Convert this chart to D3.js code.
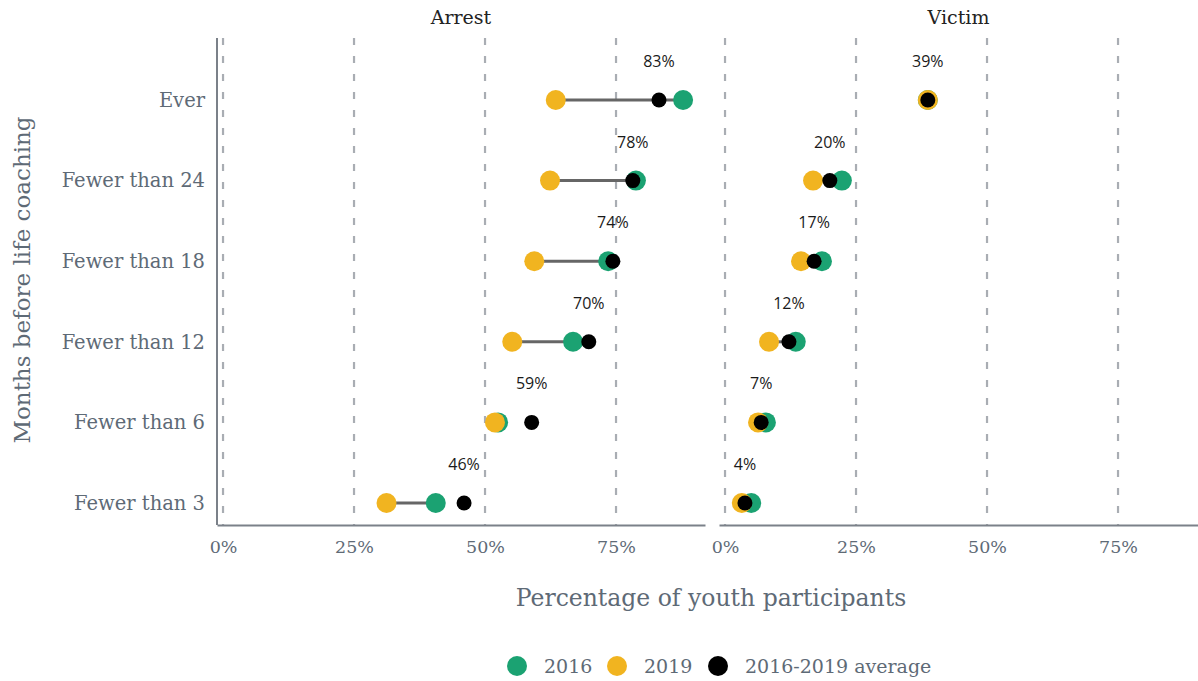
<!DOCTYPE html>
<html><head><meta charset="utf-8">
<script src="https://cdn.jsdelivr.net/npm/d3@7"></script>
<style>body{margin:0;background:#fff}</style>
</head><body>
<svg id="chart" width="1198" height="681"></svg>
<script>
const categories = ["Ever","Fewer than 24","Fewer than 18","Fewer than 12","Fewer than 6","Fewer than 3"];
const facets = ["Arrest","Victim"];
const arrest2016 = [87.8,78.8,73.5,66.8,52.5,40.6];
const arrest2019 = [63.5,62.4,59.4,55.2,51.9,31.2];
const arrestAvg  = [83.2,78.2,74.4,69.8,58.9,46.0];
const arrestLabels = ["83%","78%","74%","70%","59%","46%"];
const victim2016 = [38.7,22.3,18.5,13.5,7.8,5.0];
const victim2019 = [38.7,16.8,14.5,8.4,6.3,3.2];
const victimAvg  = [38.7,20.0,17.0,12.2,6.9,3.8];
const victimLabels = ["39%","20%","17%","12%","7%","4%"];
const xTicks = [0,25,50,75];
const legendItems = ["2016","2019","2016-2019 average"];

const colors = {g:"#1ba272", y:"#f1b420", k:"#000000"};
const axisCol = "#7b8189", textCol = "#5e6a76";
const serif = "'DejaVu Serif', serif";

const svg = d3.select("#chart");
const panels = [
  {name:facets[0], x0:217, x1:705, v16:arrest2016, v19:arrest2019, avg:arrestAvg, lab:arrestLabels},
  {name:facets[1], x0:719, x1:1198, v16:victim2016, v19:victim2019, avg:victimAvg, lab:victimLabels}
];
const yTop = 38, yBot = 525;
const y = d3.scalePoint().domain(categories).range([100,503]);

panels.forEach((p,i)=>{
  const x = d3.scaleLinear().domain([-1.15, (p.x1-p.x0)/5.24 - 1.15]).range([p.x0,p.x1]);
  const g = svg.append("g");
  g.selectAll(".grid").data(xTicks).join("line")
    .attr("x1",d=>x(d)).attr("x2",d=>x(d)).attr("y1",yTop).attr("y2",yBot)
    .attr("stroke","#a9adb3").attr("stroke-width",2.2).attr("stroke-dasharray","7,11");
  const ax = g.append("g").attr("transform",`translate(0,${yBot})`)
    .call(d3.axisBottom(x).tickValues(xTicks).tickFormat(d=>d+"%").tickSize(0).tickPadding(16));
  ax.select(".domain").attr("stroke",axisCol).attr("stroke-width",2);
  ax.selectAll("text").attr("fill",textCol).style("font-family",serif).style("font-size","17.5px");
  g.append("text").attr("x",(p.x0+p.x1)/2).attr("y",24).attr("text-anchor","middle")
    .style("font-family",serif).style("font-size","19px").attr("fill","#222").text(p.name);
  const rows = categories.map((c,j)=>({c, a:p.v16[j], b:p.v19[j], m:p.avg[j], l:p.lab[j]}));
  g.selectAll(".seg").data(rows).join("line")
    .attr("x1",d=>x(d.b)).attr("x2",d=>x(d.a)).attr("y1",d=>y(d.c)).attr("y2",d=>y(d.c))
    .attr("stroke","#666").attr("stroke-width",3);
  g.selectAll(".d16").data(rows).join("circle")
    .attr("cx",d=>x(d.a)).attr("cy",d=>y(d.c)).attr("r",10).attr("fill",colors.g);
  g.selectAll(".d19").data(rows).join("circle")
    .attr("cx",d=>x(d.b)).attr("cy",d=>y(d.c)).attr("r",10).attr("fill",colors.y);
  g.selectAll(".dav").data(rows).join("circle")
    .attr("cx",d=>x(d.m)).attr("cy",d=>y(d.c)).attr("r",7.5).attr("fill",colors.k);
  g.selectAll(".lab").data(rows).join("text")
    .attr("x",d=>x(d.m)).attr("y",d=>y(d.c)-33).attr("text-anchor","middle")
    .style("font-family","'Open Sans', sans-serif").style("font-size","16px").attr("fill","#1a1a1a")
    .text(d=>d.l);
});

svg.append("line").attr("x1",217).attr("x2",217).attr("y1",yTop).attr("y2",yBot)
  .attr("stroke",axisCol).attr("stroke-width",2);
svg.append("g").selectAll("text").data(categories).join("text")
  .attr("x",205).attr("y",d=>y(d)).attr("dy","0.35em").attr("text-anchor","end")
  .style("font-family",serif).style("font-size","19.5px").attr("fill",textCol).text(d=>d);

svg.append("text").attr("transform","translate(30,280) rotate(-90)").attr("text-anchor","middle")
  .style("font-family",serif).style("font-size","23px").attr("fill",textCol).text("Months before life coaching");
svg.append("text").attr("x",711).attr("y",606).attr("text-anchor","middle")
  .style("font-family",serif).style("font-size","23.5px").attr("fill",textCol).text("Percentage of youth participants");

const legX = [517,617,718];
const legC = [colors.g,colors.y,colors.k];
const lg = svg.append("g");
legendItems.forEach((t,i)=>{
  lg.append("circle").attr("cx",legX[i]).attr("cy",666).attr("r",10).attr("fill",legC[i]);
  lg.append("text").attr("x",legX[i]+27).attr("y",666).attr("dy","0.35em")
    .style("font-family",serif).style("font-size","19px").attr("fill",textCol).text(t);
});
</script>
</body></html>
